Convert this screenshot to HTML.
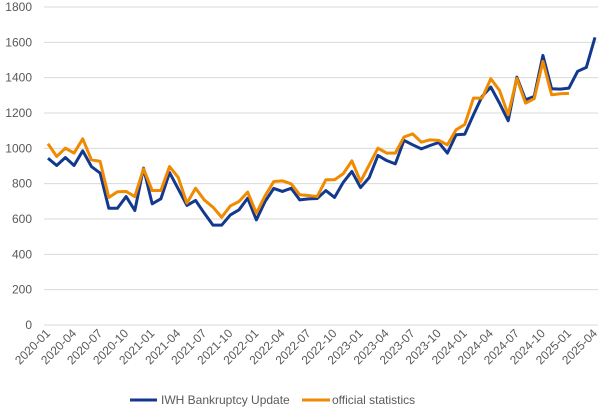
<!DOCTYPE html>
<html><head><meta charset="utf-8"><style>
body{margin:0;background:#fff;}
svg{display:block;font-family:"Liberation Sans",sans-serif;}
</style></head><body>
<svg id="chart" width="600" height="414" viewBox="0 0 600 414" xmlns="http://www.w3.org/2000/svg">
<g id="grid"></g>
<g id="yaxis"></g>
<g id="xaxis"></g>
<g id="series"></g>
<g>
  <line x1="130" y1="400" x2="157" y2="400" stroke="#12398f" stroke-width="3"/>
  <text x="161" y="404" font-size="12" fill="#595959">IWH Bankruptcy Update</text>
  <line x1="302" y1="400" x2="330" y2="400" stroke="#f08a00" stroke-width="3"/>
  <text x="332" y="404" font-size="12" fill="#595959">official statistics</text>
</g>
</svg>
<script>
const iwh=[944,903,948,903,986,897,860,661,661,727,648,888,686,714,863,770,677,705,633,565,565,623,652,718,595,699,773,756,774,708,714,716,761,722,807,869,778,835,960,931,912,1045,1020,997,1016,1033,973,1077,1080,1190,1294,1347,1256,1156,1403,1275,1294,1526,1337,1335,1341,1436,1458,1628];
const official=[1026,954,1001,973,1054,935,926,722,754,756,727,884,761,761,897,835,690,774,708,667,610,674,699,752,633,731,812,816,799,737,733,727,822,822,856,929,812,907,1001,973,973,1064,1082,1035,1048,1045,1020,1105,1135,1284,1284,1394,1328,1190,1396,1256,1281,1492,1303,1309,1311];
const yTicks=[0,200,400,600,800,1000,1200,1400,1600,1800];
const months=[];
for(let y=2020;y<=2025;y++)for(let m=1;m<=12;m++){if(months.length<64)months.push(y+'-'+String(m).padStart(2,'0'));}
const NS='http://www.w3.org/2000/svg';
const X0=48,X1=595,Y0=325,Y1=7,YMAX=1800;
const xs=i=>X0+(X1-X0)*i/(months.length-1);
const ys=v=>Y0-(Y0-Y1)*v/YMAX;
const grid=document.getElementById('grid'),ya=document.getElementById('yaxis'),xa=document.getElementById('xaxis'),se=document.getElementById('series');
yTicks.forEach(t=>{
  const l=document.createElementNS(NS,'line');
  
  
  l.setAttribute('x1',44);l.setAttribute('x2',598);l.setAttribute('y1',ys(t));l.setAttribute('y2',ys(t));
  l.setAttribute('stroke','#d9d9d9');l.setAttribute('stroke-width','1');
  grid.appendChild(l);
  const tx=document.createElementNS(NS,'text');
  
  
  tx.setAttribute('x',32);tx.setAttribute('y',ys(t)+4);tx.setAttribute('text-anchor','end');
  tx.setAttribute('font-size','12');tx.setAttribute('fill','#595959');
  tx.textContent=t;ya.appendChild(tx);
});
months.forEach((m,i)=>{
  if(i%3)return;
  const tx=document.createElementNS(NS,'text');
  
  
  const x=xs(i)+3,y=334;
  tx.setAttribute('x',x);tx.setAttribute('y',y);tx.setAttribute('text-anchor','end');
  tx.setAttribute('transform','rotate(-45 '+x+' '+y+')');
  tx.setAttribute('font-size','12');tx.setAttribute('fill','#595959');
  tx.textContent=m;xa.appendChild(tx);
});
function line(data,color,name){
  const p=document.createElementNS(NS,'polyline');
  
  
  p.setAttribute('points',data.map((v,i)=>xs(i)+','+ys(v)).join(' '));
  p.setAttribute('fill','none');p.setAttribute('stroke',color);p.setAttribute('stroke-width','3');
  p.setAttribute('stroke-linejoin','round');
  se.appendChild(p);
}
line(iwh,'#12398f','iwh-line');
line(official,'#f08a00','official-line');
</script>
</body></html>
